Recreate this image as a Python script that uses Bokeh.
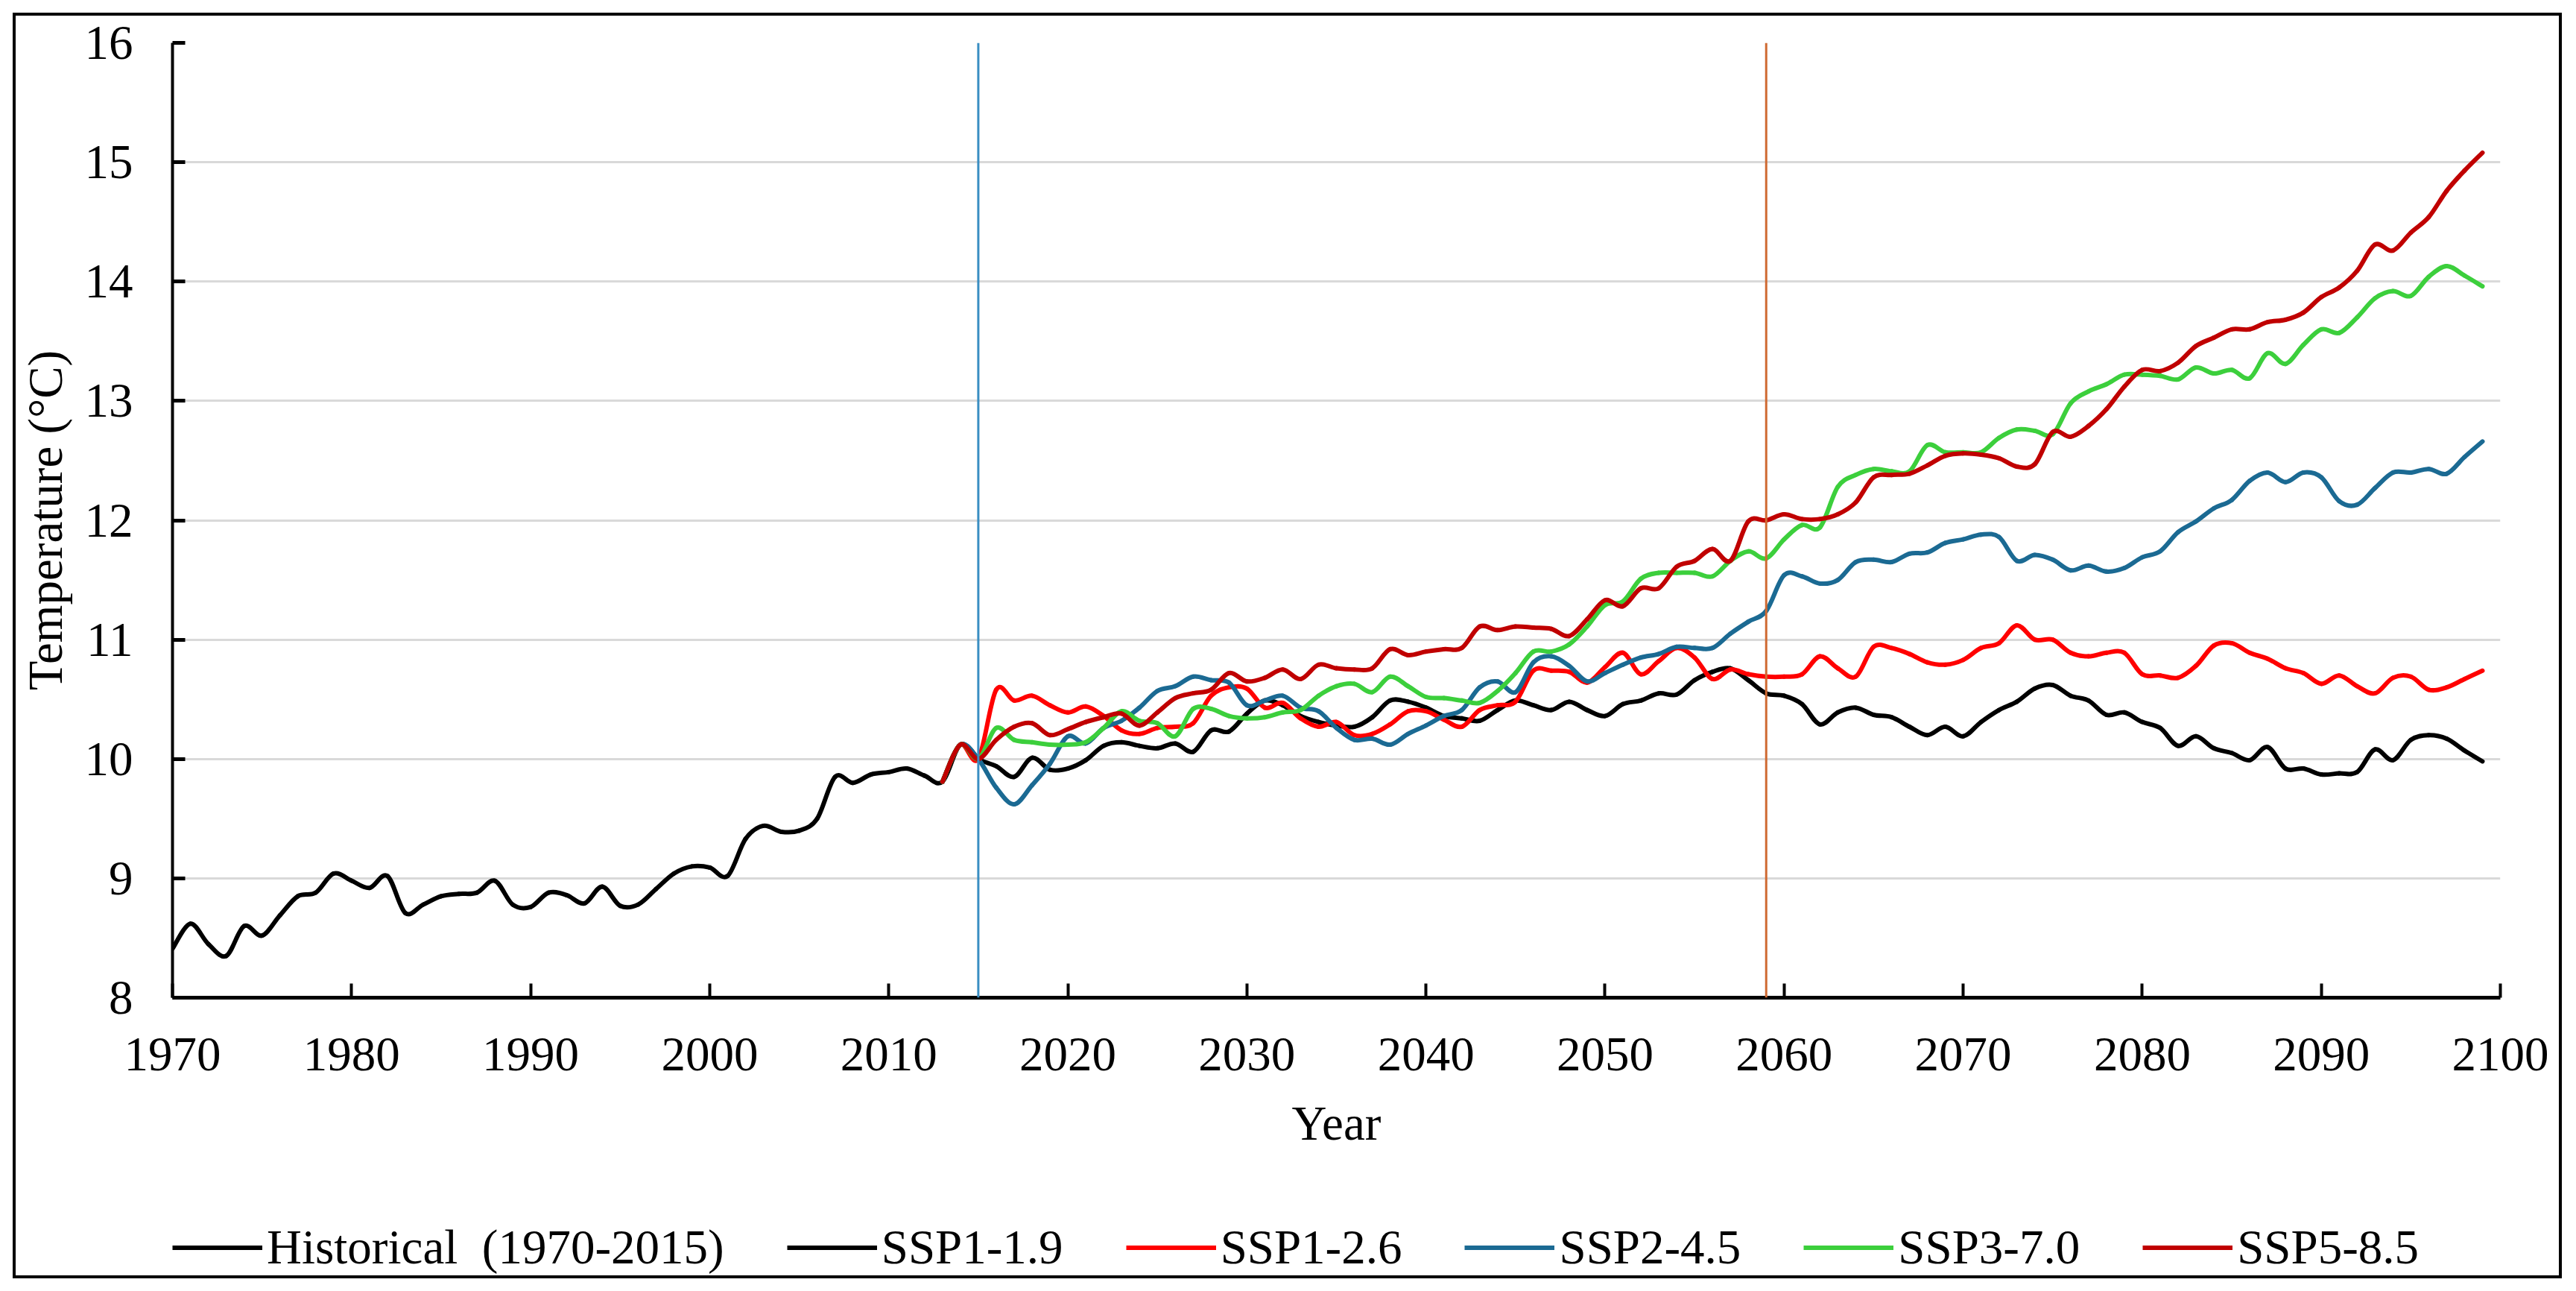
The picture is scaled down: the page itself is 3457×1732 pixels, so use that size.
import numpy as np
from bokeh.plotting import figure
from bokeh.layouts import column, row
from bokeh.models import (FixedTicker, Span, Legend, LegendItem, ColumnDataSource,
                          Spacer)
from bokeh.embed import file_html
from bokeh.resources import INLINE

# ---------------- data ----------------
hist_years = list(range(1970, 2016))
historical = [8.41, 8.62, 8.45, 8.35, 8.60, 8.52, 8.69, 8.85, 8.88, 9.04,
              8.98, 8.92, 9.02, 8.71, 8.78, 8.85, 8.87, 8.88, 8.98, 8.78,
              8.76, 8.88, 8.86, 8.79, 8.93, 8.77, 8.78, 8.91, 9.04, 9.10,
              9.09, 9.02, 9.33, 9.44, 9.39, 9.40, 9.50, 9.85, 9.80, 9.87,
              9.89, 9.92, 9.86, 9.81, 10.12, 10.00]

# scenario runs are drawn from 2013 (joined to the historical record)
ssp_years = list(range(2013, 2100))
ssp119 = [9.81, 10.12,
          10.00, 9.94, 9.85, 10.01, 9.91, 9.92, 9.99, 10.11, 10.14, 10.11,
          10.09, 10.13, 10.06, 10.24, 10.23, 10.38, 10.49, 10.45, 10.36, 10.31,
          10.28, 10.27, 10.35, 10.49, 10.48, 10.43, 10.36, 10.34, 10.32, 10.41,
          10.49, 10.45, 10.41, 10.48, 10.41, 10.36, 10.46, 10.49, 10.55, 10.54,
          10.66, 10.73, 10.76, 10.66, 10.55, 10.53, 10.46, 10.29, 10.39, 10.43,
          10.37, 10.35, 10.27, 10.20, 10.27, 10.19, 10.31, 10.41, 10.48, 10.59,
          10.62, 10.53, 10.49, 10.37, 10.39, 10.31, 10.26, 10.11, 10.19, 10.09,
          10.05, 9.99, 10.10, 9.92, 9.92, 9.87, 9.88, 9.89, 10.08, 9.99,
          10.16, 10.20, 10.17, 10.07, 9.98]
ssp126 = [9.81, 10.12,
          10.00, 10.58, 10.49, 10.53, 10.45, 10.39, 10.44, 10.36, 10.24, 10.21,
          10.26, 10.27, 10.30, 10.53, 10.60, 10.59, 10.43, 10.47, 10.34, 10.27,
          10.31, 10.20, 10.21, 10.29, 10.40, 10.40, 10.33, 10.27, 10.41, 10.45,
          10.48, 10.74, 10.74, 10.73, 10.64, 10.77, 10.89, 10.71, 10.82, 10.93,
          10.85, 10.67, 10.75, 10.71, 10.69, 10.69, 10.71, 10.86, 10.76, 10.69,
          10.94, 10.93, 10.88, 10.81, 10.79, 10.83, 10.93, 10.97, 11.12, 11.00,
          11.00, 10.89, 10.86, 10.89, 10.89, 10.71, 10.70, 10.68, 10.78, 10.95,
          10.97, 10.89, 10.84, 10.76, 10.72, 10.63, 10.70, 10.61, 10.55, 10.68,
          10.69, 10.58, 10.60, 10.67, 10.74]
ssp245 = [9.81, 10.12,
          10.00, 9.76, 9.62, 9.78, 9.96, 10.19, 10.13, 10.26, 10.32, 10.43,
          10.57, 10.61, 10.69, 10.66, 10.64, 10.45, 10.49, 10.53, 10.43, 10.40,
          10.26, 10.16, 10.17, 10.12, 10.21, 10.28, 10.36, 10.41, 10.60, 10.65,
          10.56, 10.81, 10.86, 10.78, 10.65, 10.72, 10.79, 10.85, 10.88, 10.94,
          10.93, 10.93, 11.05, 11.15, 11.24, 11.54, 11.53, 11.47, 11.50, 11.65,
          11.67, 11.65, 11.72, 11.73, 11.81, 11.84, 11.88, 11.86, 11.66, 11.71,
          11.67, 11.58, 11.62, 11.57, 11.60, 11.69, 11.74, 11.90, 11.99, 12.10,
          12.17, 12.33, 12.40, 12.32, 12.40, 12.36, 12.16, 12.13, 12.27, 12.40,
          12.40, 12.43, 12.39, 12.53, 12.66]
ssp370 = [9.81, 10.12,
          10.00, 10.26, 10.16, 10.14, 10.12, 10.12, 10.14, 10.26, 10.40, 10.32,
          10.30, 10.19, 10.42, 10.42, 10.36, 10.34, 10.35, 10.39, 10.41, 10.53,
          10.61, 10.63, 10.56, 10.69, 10.61, 10.52, 10.51, 10.49, 10.47, 10.57,
          10.72, 10.90, 10.90, 10.96, 11.11, 11.29, 11.32, 11.51, 11.56, 11.56,
          11.56, 11.53, 11.66, 11.74, 11.68, 11.84, 11.96, 11.94, 12.28, 12.38,
          12.43, 12.41, 12.41, 12.63, 12.57, 12.57, 12.57, 12.69, 12.76, 12.75,
          12.72, 12.98, 13.08, 13.14, 13.22, 13.22, 13.21, 13.18, 13.28, 13.23,
          13.26, 13.19, 13.40, 13.31, 13.47, 13.60, 13.57, 13.70, 13.86, 13.92,
          13.88, 14.04, 14.13, 14.05, 13.96]
ssp585 = [9.81, 10.12,
          10.00, 10.16, 10.27, 10.30, 10.20, 10.25, 10.31, 10.35, 10.38, 10.28,
          10.39, 10.51, 10.55, 10.58, 10.72, 10.65, 10.68, 10.75, 10.67, 10.79,
          10.76, 10.75, 10.76, 10.92, 10.87, 10.90, 10.92, 10.93, 11.11, 11.08,
          11.11, 11.10, 11.09, 11.03, 11.17, 11.33, 11.28, 11.43, 11.43, 11.61,
          11.66, 11.76, 11.66, 11.99, 12.00, 12.05, 12.01, 12.01, 12.05, 12.15,
          12.36, 12.38, 12.39, 12.46, 12.54, 12.56, 12.55, 12.52, 12.45, 12.47,
          12.74, 12.70, 12.79, 12.93, 13.12, 13.26, 13.25, 13.32, 13.46, 13.53,
          13.60, 13.60, 13.66, 13.68, 13.74, 13.87, 13.95, 14.09, 14.31, 14.26,
          14.41, 14.54, 14.76, 14.93, 15.08]

series_names = ["SSP1-1.9", "SSP1-2.6", "SSP2-4.5", "SSP3-7.0", "SSP5-8.5"]
series_values = [ssp119, ssp126, ssp245, ssp370, ssp585]
series_colors = ["#000000", "#FF0000", "#1B6A93", "#3CCF3C", "#C00000"]
hist_label = "Historical  (1970-2015)"
hist_color = "#000000"

x_ticks = list(range(1970, 2101, 10))
y_ticks = list(range(8, 17))
marker_years = [2015, 2059]
marker_colors = ["#3A8EC2", "#CF6A33"]

for s in series_values:
    assert len(s) == len(ssp_years), len(s)
assert len(historical) == len(hist_years)

FONT = "Liberation Serif"
FS = "65px"
LW = 6


def smooth_source(xs, ys):
    """Cubic Bezier segments through the points (Excel-style smoothed line)."""
    x = np.asarray(xs, dtype=float)
    y = np.asarray(ys, dtype=float)
    xp = np.concatenate([[x[0]], x, [x[-1]]])
    yp = np.concatenate([[y[0]], y, [y[-1]]])
    n = len(x)
    i = np.arange(n - 1)
    x0, y0 = x[:-1], y[:-1]
    x1, y1 = x[1:], y[1:]
    cx0 = x0 + (xp[i + 2] - xp[i]) / 6.0
    cy0 = y0 + (yp[i + 2] - yp[i]) / 6.0
    cx1 = x1 - (xp[i + 3] - xp[i + 1]) / 6.0
    cy1 = y1 - (yp[i + 3] - yp[i + 1]) / 6.0
    return ColumnDataSource(dict(x0=x0, y0=y0, x1=x1, y1=y1,
                                 cx0=cx0, cy0=cy0, cx1=cx1, cy1=cy1))


# outer frame: 4px border at page (17, 17); content box starts at (21, 21)
WM, HM, HL = 3413, 1579, 111
FRAME_BOTTOM = 1317  # canvas px
BL, BR = 210, 79

p = figure(width=WM, height=HM,
           x_range=(1970, 2100), y_range=(8, 16),
           output_backend="svg", toolbar_location=None,
           min_border_left=BL, min_border_right=BR,
           min_border_top=36, min_border_bottom=HM - FRAME_BOTTOM,
           background_fill_color="white", border_fill_color="white")
p.outline_line_color = None

# grid
p.xgrid.visible = False
p.ygrid.ticker = FixedTicker(ticks=y_ticks)
p.ygrid.grid_line_color = "#D9D9D9"
p.ygrid.grid_line_width = 3

# axes
p.xaxis.ticker = FixedTicker(ticks=x_ticks)
p.yaxis.ticker = FixedTicker(ticks=y_ticks)
for ax in (p.xaxis[0], p.yaxis[0]):
    ax.axis_line_color = "black"
    ax.major_tick_line_color = "black"
    ax.minor_tick_line_color = None
    ax.major_tick_out = 0
    ax.major_label_text_font = FONT
    ax.major_label_text_font_size = FS
    ax.major_label_text_color = "black"
    ax.axis_label_text_font = FONT
    ax.axis_label_text_font_size = FS
    ax.axis_label_text_font_style = "normal"
    ax.axis_label_text_color = "black"

p.xaxis.axis_line_width = 5
p.xaxis.major_tick_line_width = 4
p.xaxis.major_tick_in = 19
p.xaxis.major_label_standoff = 54
p.xaxis.axis_label = "Year"
p.xaxis.axis_label_standoff = 32

p.yaxis.axis_line_width = 4
p.yaxis.major_tick_line_width = 5
p.yaxis.major_tick_in = 17
p.yaxis.major_label_standoff = 53
p.yaxis.axis_label = "Temperature (°C)"
p.yaxis.axis_label_standoff = 14

# marker lines
for yr, col in zip(marker_years, marker_colors):
    p.add_layout(Span(location=yr, dimension="height", line_color=col, line_width=3))

# lines
hist_src = smooth_source(hist_years, historical)
ssp_srcs = [smooth_source(ssp_years, vals) for vals in series_values]
p.bezier(x0="x0", y0="y0", x1="x1", y1="y1", cx0="cx0", cy0="cy0",
         cx1="cx1", cy1="cy1", source=hist_src,
         line_color=hist_color, line_width=LW, line_cap="round")
for src, col in zip(ssp_srcs, series_colors):
    p.bezier(x0="x0", y0="y0", x1="x1", y1="y1", cx0="cx0", cy0="cy0",
             cx1="cx1", cy1="cy1", source=src,
             line_color=col, line_width=LW, line_cap="round")

# ---------------- legend strip (below the chart) ----------------
pl = figure(width=WM, height=HL, x_range=(0, 1), y_range=(0, 1),
            output_backend="svg", toolbar_location=None,
            min_border_left=183, min_border_right=BR,
            min_border_top=35, min_border_bottom=0,
            background_fill_color="white", border_fill_color="white")
pl.outline_line_color = None
pl.axis.visible = False
pl.grid.visible = False

items = []
# legend keys: the same series, drawn in the strip's own (empty) view range
for name, src, col in zip([hist_label] + series_names, [hist_src] + ssp_srcs,
                          [hist_color] + series_colors):
    proxy = pl.segment(x0="x0", y0="y0", x1="x1", y1="y1", source=src,
                       line_color=col, line_width=LW)
    items.append(LegendItem(label=name, renderers=[proxy]))

legend = Legend(items=items, orientation="horizontal", location="left",
                label_text_font=FONT, label_text_font_size=FS,
                label_text_color="black", label_height=74,
                glyph_width=121, glyph_height=40, label_standoff=6,
                spacing=84, padding=0, margin=0,
                border_line_color=None, background_fill_alpha=0)
pl.add_layout(legend, "center")

inner = column(p, pl, spacing=0, styles={"border": "4px solid black"})
root = column(Spacer(height=17), row(Spacer(width=17), inner, spacing=0), spacing=0)

open("out.html", "w").write(file_html(root, INLINE))
